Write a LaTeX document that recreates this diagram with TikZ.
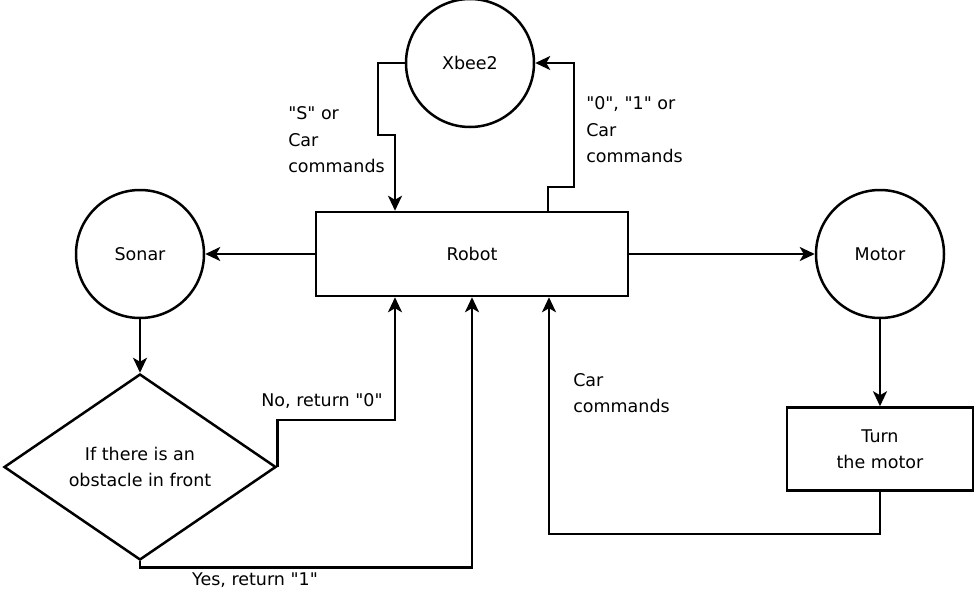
\documentclass[tikz,border=0pt]{standalone}
\usepackage{fontspec}
\setmainfont{DejaVu Sans}[Ligatures=TeXOff]
\usetikzlibrary{shapes.geometric,arrows.meta}
\begin{document}
\begin{tikzpicture}[x=1pt,y=-1pt,line width=2.5pt,
    font=\fontsize{17.5}{26.5}\selectfont,
    unit/.style={draw,circle,minimum size=128pt,inner sep=0pt},
    block/.style={draw,rectangle,inner sep=0pt,align=center},
    test/.style={draw,diamond,minimum width=272pt,minimum height=186pt,inner sep=0pt,align=center},
    note/.style={align=left,anchor=west,inner sep=0pt},
    arr/.style={-{Stealth[length=15pt,width=14pt,inset=4pt]}}]
        \useasboundingbox (0,0) rectangle (975,594);
        \node[unit] (xbee) at (470,63) {Xbee2};
        \node[unit] (sonar) at (140,254) {Sonar};
        \node[unit] (motor) at (880,254) {Motor};
        \node[block,minimum width=312pt,minimum height=84pt] (robot) at (472,254) {Robot};
        \node[test] (obst) at (140,467) {If there is an\\obstacle in front};
        \node[block,minimum width=186pt,minimum height=83pt] (turn) at (880,449) {Turn\\the motor};
        \draw[arr] (xbee.west) -| (378,135) -| ([xshift=-77pt]robot.north);
        \draw[arr] ([xshift=76pt]robot.north) |- (574,187) |- (xbee.east);
        \draw[arr] (robot.west) -- (sonar.east);
        \draw[arr] (robot.east) -- (motor.west);
        \draw[arr] (sonar.south) -- (obst.north);
        \draw[arr] (motor.south) -- (turn.north);
        \draw[arr] (obst.east) -- ++(0,-47) -| ([xshift=-77pt]robot.south);
        \draw[arr] (obst.south) -- ++(0,6) -| (robot.south);
        \draw[arr] (turn.south) -- ++(0,42) -| ([xshift=77pt]robot.south);
        \node[note] (sorcar) at (287,140) {"S" or\\Car\\commands};
        \node[note] (reply) at (585,130) {"0", "1" or\\Car\\commands};
        \node[note] (carcmd) at (572,393) {Car\\commands};
        \node[inner sep=0pt] (no) at (322,401) {No, return "0"};
        \node[inner sep=0pt] (yes) at (255,580) {Yes, return "1"};
    \end{tikzpicture}
\end{document}
